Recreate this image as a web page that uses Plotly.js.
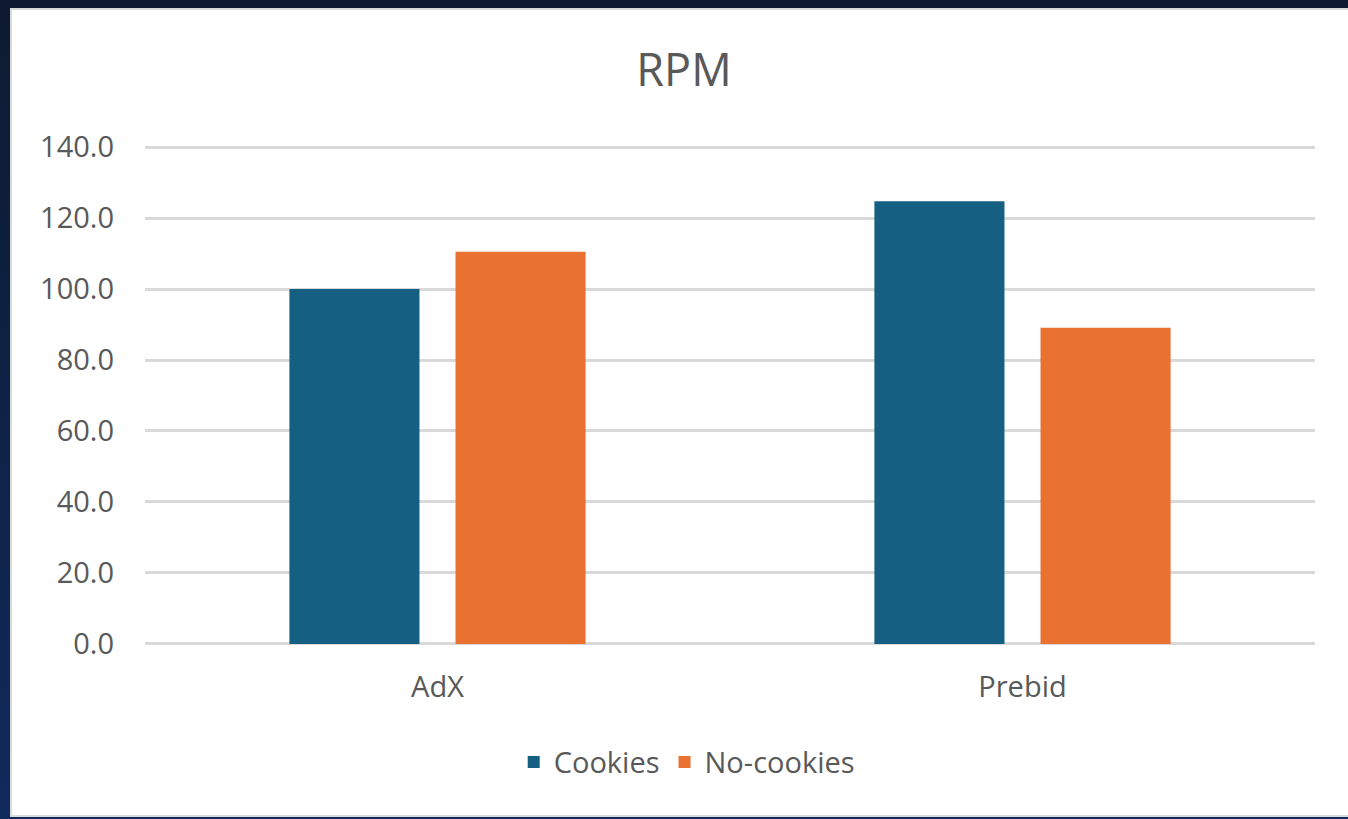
<!DOCTYPE html>
<html>
<head>
<meta charset="utf-8">
<script src="https://cdn.plot.ly/plotly-3.0.1.min.js"></script>
<style>
  html, body { margin: 0; padding: 0; width: 1348px; height: 819px; overflow: hidden;
    background: linear-gradient(180deg, #0d1a30 0%, #0f2a5c 100%); }
  #frame { position: absolute; left: 10px; top: 8px; width: 1338px; height: 809px; background: #d9d9d9; }
  #chart { position: absolute; left: 12px; top: 10px; width: 1336px; height: 805px; background: #ffffff; }
</style>
</head>
<body>
<div id="frame"></div>
<div id="chart"></div>
<script>
const categories = ['AdX', 'Prebid'];
const seriesNames = ['Cookies', 'No-cookies'];
const cookies = [100.0, 124.7];
const noCookies = [110.5, 89.1];
const yTicks = [0, 20, 40, 60, 80, 100, 120, 140];

const fontFam = '"Open Sans", "Noto Sans", sans-serif';
const textColor = '#595959';

const traces = [
  { type: 'bar', name: seriesNames[0], x: categories, y: cookies,
    marker: { color: '#156082' }, hoverinfo: 'y' },
  { type: 'bar', name: seriesNames[1], x: categories, y: noCookies,
    marker: { color: '#E97132' }, hoverinfo: 'y' }
];

const layout = {
  width: 1336, height: 805,
  paper_bgcolor: '#ffffff', plot_bgcolor: '#ffffff',
  margin: { l: 133, r: 33, t: 136, b: 170 },
  barmode: 'group', bargap: 0.432, bargroupgap: 0.217,
  title: { text: 'RPM', x: 0.503, xanchor: 'center', xref: 'container',
    y: 1 - 60 / 805, yref: 'container', yanchor: 'middle',
    font: { family: fontFam, size: 45, color: textColor } },
  xaxis: { type: 'category', showgrid: false, zeroline: false, showline: false,
    ticks: '', ticklabelstandoff: 22,
    tickfont: { family: fontFam, size: 29, color: textColor } },
  yaxis: { range: [-0.3, 140.3], tickvals: yTicks, tickformat: '.1f',
    showgrid: true, gridcolor: '#d9d9d9', gridwidth: 3,
    zeroline: true, zerolinecolor: '#d9d9d9', zerolinewidth: 3,
    showline: false, ticks: '', ticklabelstandoff: 30,
    tickfont: { family: fontFam, size: 29, color: textColor } },
  showlegend: true,
  legend: { orientation: 'h', x: 0.463, xanchor: 'center', y: -0.235, yanchor: 'middle',
    font: { family: fontFam, size: 29, color: textColor }, traceorder: 'normal',
    itemclick: false, itemdoubleclick: false }
};

Plotly.newPlot('chart', traces, layout, { displayModeBar: false, staticPlot: true });
</script>
</body>
</html>
